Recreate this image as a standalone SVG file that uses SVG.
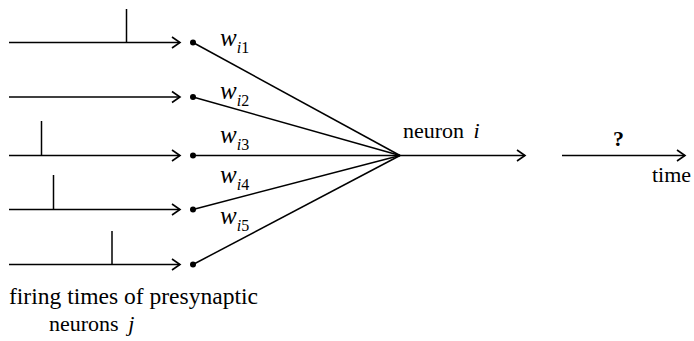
<svg xmlns="http://www.w3.org/2000/svg" width="694" height="341" viewBox="0 0 694 341">
<defs>
<marker id="arr" markerUnits="userSpaceOnUse" markerWidth="14" markerHeight="14" refX="10" refY="7" orient="auto" viewBox="0 0 14 14">
<path d="M2,1.5 L10,7 L2,12.5" fill="none" stroke="#000" stroke-width="1.6"/>
</marker>
</defs>
<rect width="694" height="341" fill="#fff"/>
<g id="connectors" stroke="#000" stroke-width="1.5" fill="none">
<line x1="9" y1="42.5" x2="180" y2="42.5" marker-end="url(#arr)"/>
<line x1="9" y1="97" x2="180" y2="97" marker-end="url(#arr)"/>
<line x1="9" y1="155.5" x2="180" y2="155.5" marker-end="url(#arr)"/>
<line x1="9" y1="209.5" x2="180" y2="209.5" marker-end="url(#arr)"/>
<line x1="9" y1="264.5" x2="180" y2="264.5" marker-end="url(#arr)"/>
<line x1="193" y1="42.5" x2="400" y2="155.5"/>
<line x1="193" y1="97" x2="400" y2="155.5"/>
<line x1="193" y1="155.5" x2="400" y2="155.5"/>
<line x1="193" y1="209.5" x2="400" y2="155.5"/>
<line x1="193" y1="264.5" x2="400" y2="155.5"/>
<line x1="400" y1="155.5" x2="525" y2="155.5" marker-end="url(#arr)"/>
<line x1="562" y1="155.5" x2="685" y2="155.5" marker-end="url(#arr)"/>
</g>
<g id="spikes" stroke="#000" stroke-width="1.5">
<line x1="126.5" y1="9" x2="126.5" y2="42.5"/>
<line x1="41.5" y1="121" x2="41.5" y2="155.5"/>
<line x1="53.5" y1="175" x2="53.5" y2="209.5"/>
<line x1="112" y1="231" x2="112" y2="264.5"/>
</g>
<g id="synapses" fill="#000">
<circle id="syn1" cx="193" cy="42.5" r="3"/>
<circle id="syn2" cx="193" cy="97" r="3"/>
<circle id="syn3" cx="193" cy="155.5" r="3"/>
<circle id="syn4" cx="193" cy="209.5" r="3"/>
<circle id="syn5" cx="193" cy="264.5" r="3"/>
</g>
<g id="weights" font-family="Liberation Serif" font-size="25" font-style="italic">
<text x="220" y="46">w<tspan font-size="16" dy="7">i</tspan><tspan font-size="16" font-style="normal">1</tspan></text>
<text x="220" y="99">w<tspan font-size="16" dy="7">i</tspan><tspan font-size="16" font-style="normal">2</tspan></text>
<text x="220" y="143">w<tspan font-size="16" dy="7">i</tspan><tspan font-size="16" font-style="normal">3</tspan></text>
<text x="220" y="183">w<tspan font-size="16" dy="7">i</tspan><tspan font-size="16" font-style="normal">4</tspan></text>
<text x="220" y="224">w<tspan font-size="16" dy="7">i</tspan><tspan font-size="16" font-style="normal">5</tspan></text>
</g>
<g id="neuron">
<text x="403" y="138" font-family="Liberation Serif" font-size="22">neuron <tspan font-style="italic" dx="4">i</tspan></text>
</g>
<g id="output">
<text x="613" y="146" font-family="Liberation Serif" font-size="22" font-weight="bold">?</text>
<text x="652" y="182" font-family="Liberation Serif" font-size="22">time</text>
</g>
<g id="caption">
<text x="9" y="304" font-family="Liberation Serif" font-size="23" textLength="249" lengthAdjust="spacingAndGlyphs">firing times of presynaptic</text>
<text x="49" y="331" font-family="Liberation Serif" font-size="22">neurons <tspan font-style="italic" dx="4">j</tspan></text>
</g>
</svg>
